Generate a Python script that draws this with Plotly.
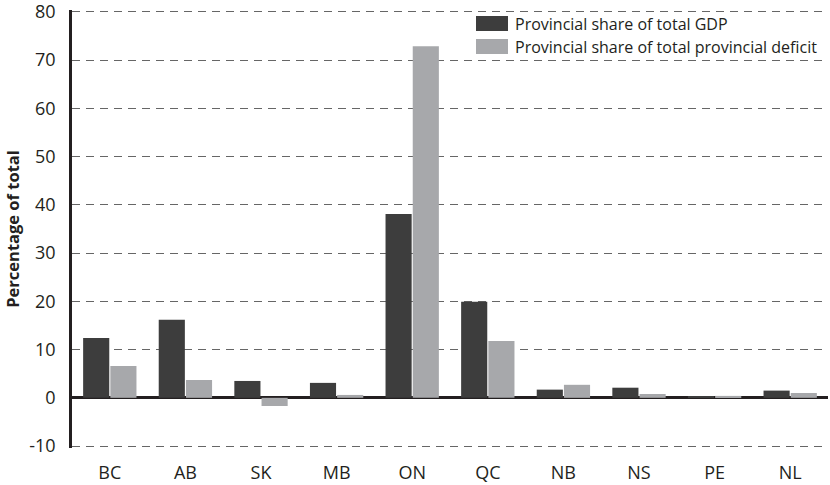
import plotly.graph_objects as go

provinces = ["BC", "AB", "SK", "MB", "ON", "QC", "NB", "NS", "PE", "NL"]
gdp_share = [12.4, 16.2, 3.5, 3.1, 38.1, 19.9, 1.7, 2.1, 0.3, 1.5]
deficit_share = [6.6, 3.7, -1.7, 0.6, 72.9, 11.8, 2.7, 0.8, 0.4, 1.0]
series_names = ["Provincial share of total GDP",
                "Provincial share of total provincial deficit"]
y_ticks = [-10, 0, 10, 20, 30, 40, 50, 60, 70, 80]
y_tick_text = ["-10", "0", "10", "20", "30", "40", "50", "60", "70", "80"]

DARK = "#3d3d3d"
LIGHT = "#a7a8ab"
TEXT = "#231f20"
FONT = "Open Sans"

fig = go.Figure()
fig.add_trace(go.Bar(x=provinces, y=gdp_share, name=series_names[0],
                     marker=dict(color=DARK, line=dict(width=0))))
fig.add_trace(go.Bar(x=provinces, y=deficit_share, name=series_names[1],
                     marker=dict(color=LIGHT, line=dict(width=0))))

# Hand-built legend with wide swatches, top right
plot_w = 830 - 72 - 2
plot_h = 485 - 10 - 37
def py(px):
    return 1 - (px - 10) / plot_h

legend_rows = [(series_names[0], DARK, 23.5), (series_names[1], LIGHT, 46.5)]
for name, color, yc in legend_rows:
    fig.add_shape(type="rect", xref="paper", yref="paper",
                  x0=(476 - 72) / plot_w, x1=(508 - 72) / plot_w,
                  y0=py(yc + 7.5), y1=py(yc - 7.5),
                  fillcolor=color, line=dict(width=0))
    fig.add_annotation(xref="paper", yref="paper", x=(513 - 72) / plot_w, y=py(yc),
                       text=name, showarrow=False, xanchor="left", yanchor="middle",
                       font=dict(family=FONT, size=16, color=TEXT))

fig.update_layout(
    width=830, height=485,
    margin=dict(l=72, r=2, t=10, b=37),
    paper_bgcolor="white", plot_bgcolor="white",
    barmode="group", bargap=0.28, bargroupgap=0.04,
    showlegend=False,
    font=dict(family=FONT, color=TEXT),
)
fig.update_xaxes(
    automargin=False,
    showgrid=False, showline=False, zeroline=False,
    ticks="outside", ticklen=8, tickcolor="rgba(0,0,0,0)",
    tickfont=dict(family=FONT, size=18, color=TEXT),
)
fig.update_yaxes(
    automargin=False, ticklabeloverflow="allow",
    range=[-10.4, 80.4], tickvals=y_ticks, ticktext=y_tick_text,
    showgrid=True, gridcolor="#666666", gridwidth=1, griddash="8px,6px",
    zeroline=True, zerolinecolor=TEXT, zerolinewidth=2.5,
    showline=True, linecolor=TEXT, linewidth=2.5,
    ticks="outside", ticklen=10, tickcolor="rgba(0,0,0,0)",
    tickfont=dict(family=FONT, size=18, color=TEXT),
    title=dict(text="<b>Percentage of total</b>", standoff=6,
               font=dict(family=FONT, size=16.5, color=TEXT)),
)

fig.write_html("out.html")
